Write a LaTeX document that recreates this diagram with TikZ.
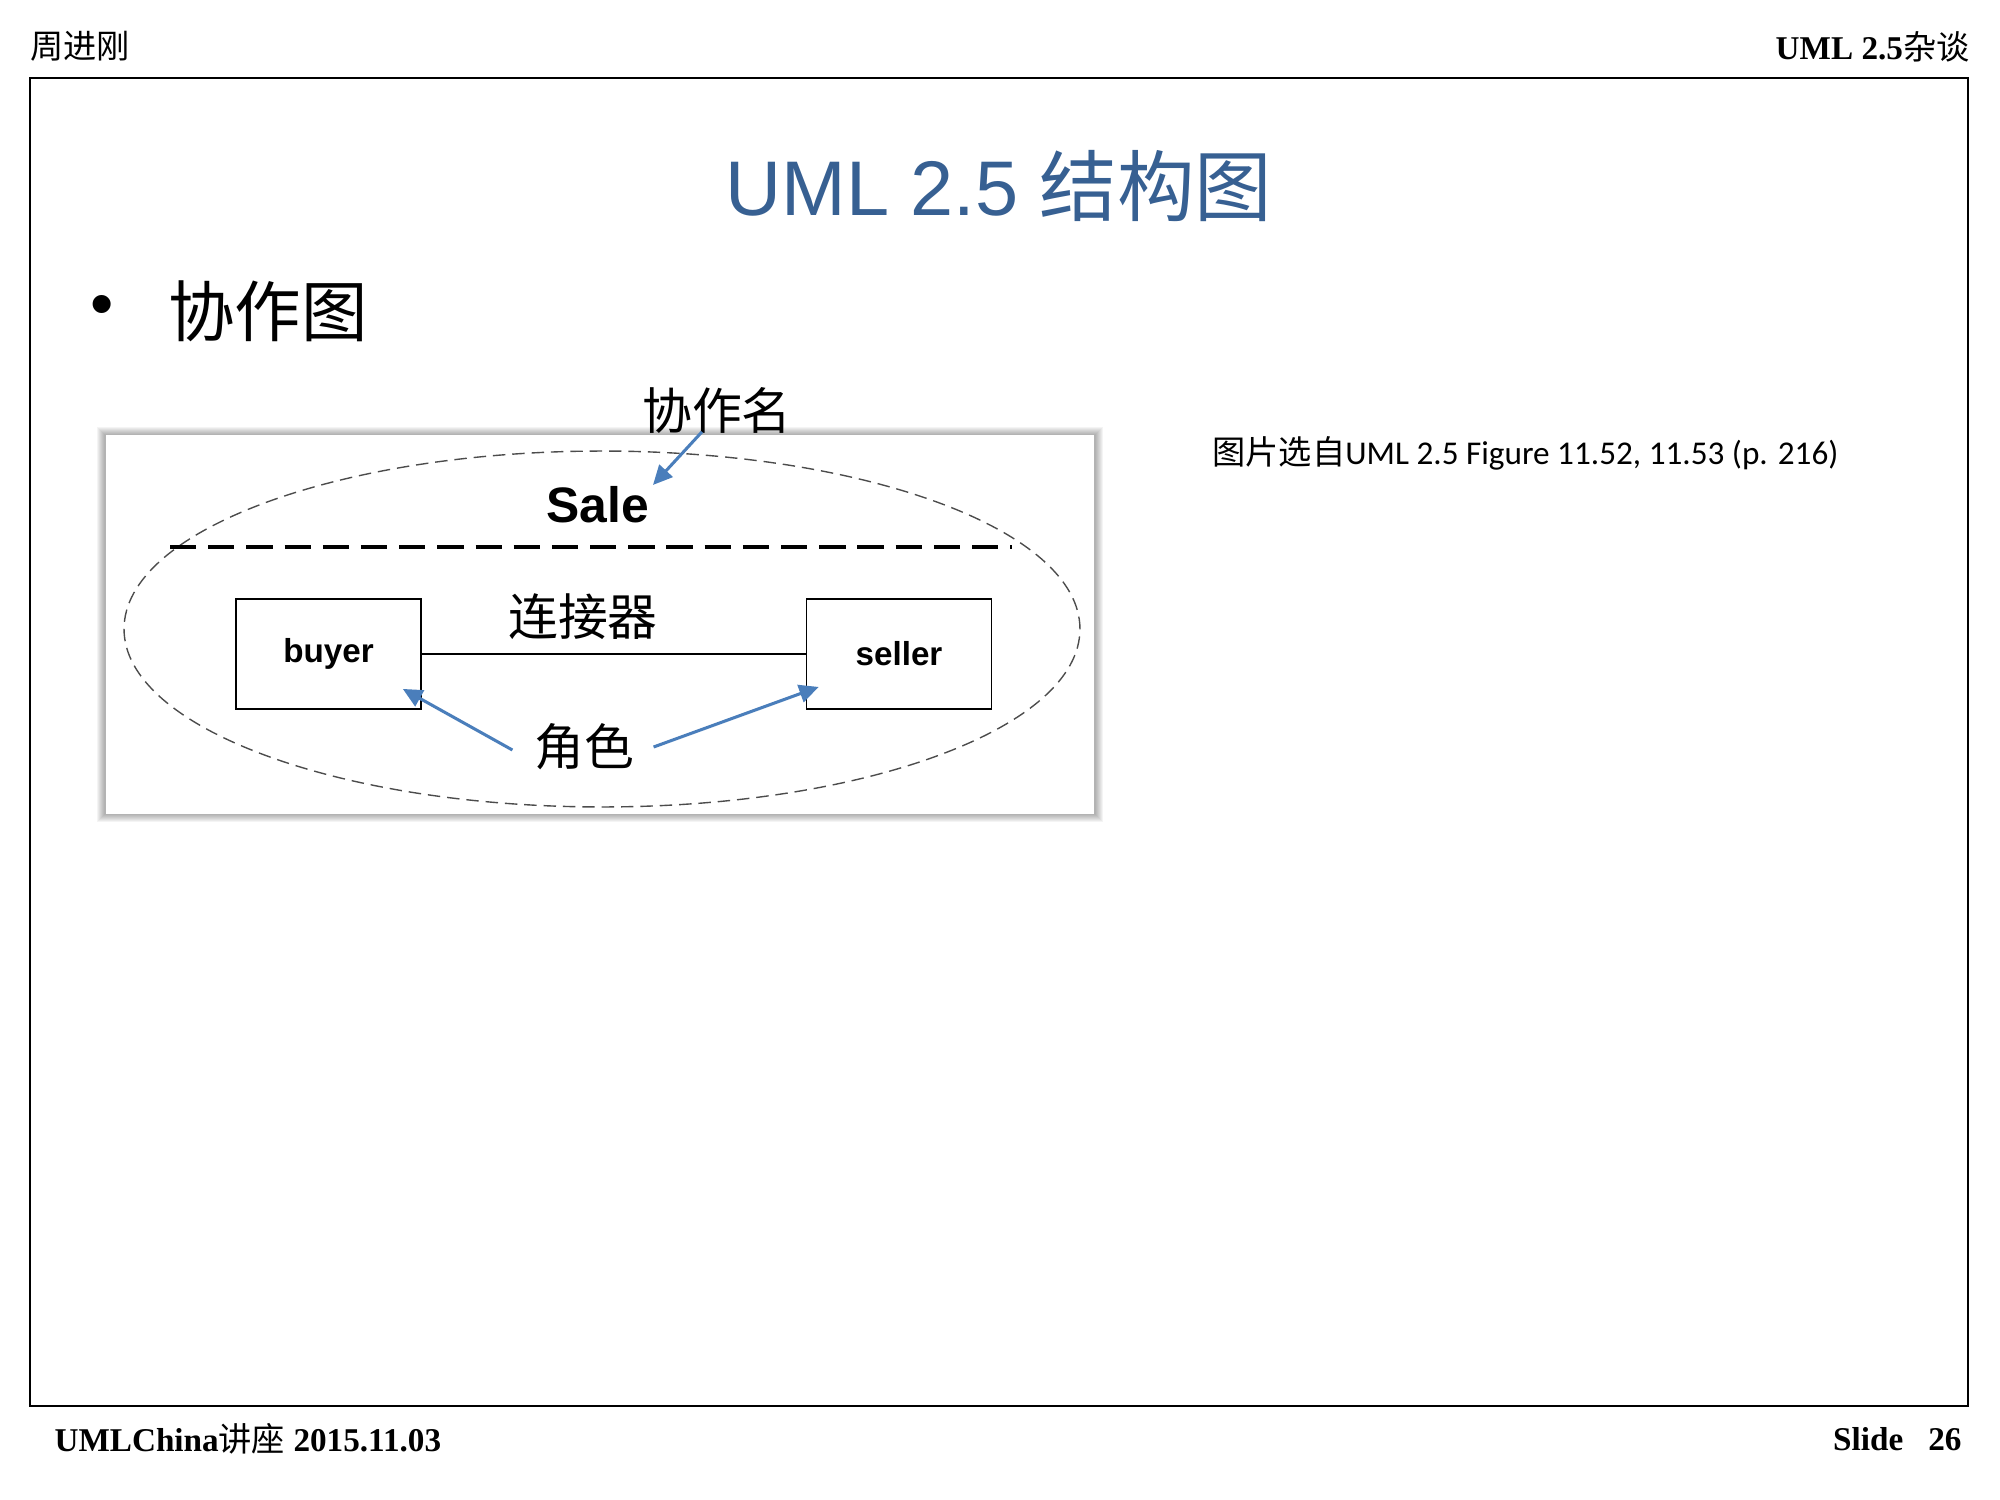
\documentclass[tikz,border=0pt]{standalone}
\usepackage{fontspec}
\setmainfont{Liberation Serif}
\setsansfont{Liberation Sans}
\newfontfamily\cjk{Noto Sans CJK SC}
\newfontfamily\notefont{Carlito}
\usetikzlibrary{shapes.geometric,backgrounds,arrows.meta,calc}
\definecolor{titleblue}{HTML}{376092}
\definecolor{pointerblue}{HTML}{4A7EBB}

\begin{document}
\begin{tikzpicture}[
    x=0.127mm, y=-0.127mm,
    hdr/.style={inner sep=0pt, font=\bfseries\fontsize{12}{14}\selectfont},
    part/.style={rectangle, draw, line width=0.6pt, minimum width=23.5mm, minimum height=14mm, font=\sffamily\bfseries\fontsize{12}{14}\selectfont},
    callout/.style={font=\cjk\fontsize{18}{22}\selectfont},
    collab/.style={ellipse, draw=black!70, line width=0.5pt, dash pattern=on 4.5pt off 2.5pt, minimum width=121.4mm, minimum height=45.2mm},
    pointer/.style={-{Triangle[length=7pt, width=6.5pt]}, line width=1.1pt, draw=pointerblue, fill=pointerblue},
]
\useasboundingbox (0,0) rectangle (2000,1500);

% Slide frame
\node[hdr, anchor=west] (author) at (30,46) {\cjk\mdseries 周进刚};
\node[hdr, anchor=east] (series) at (1970,47) {UML 2.5{\cjk\mdseries 杂谈}};
\draw[line width=1pt] (30,78) rectangle (1968,1406);
\node[hdr, anchor=west] (event) at (54,1439) {UMLChina{\cjk\mdseries 讲座} 2015.11.03};
\node[hdr, anchor=east] (page) at (1962,1439) {Slide\hspace{9pt}26};

% Title and bullet
\node[font=\sffamily\fontsize{28}{32}\selectfont, text=titleblue] (title) at (999,186) {UML 2.5 {\cjk 结构图}};
\node[font=\sffamily\fontsize{24}{28}\selectfont] (dot) at (102,311) {\textbullet};
\node[anchor=west, inner sep=0pt, font=\cjk\fontsize{24}{28}\selectfont] (topic) at (168,311) {协作图};
\node[anchor=west, inner sep=0pt, font=\notefont\fontsize{12}{14}\selectfont] (source) at (1212,453) {{\cjk 图片选自}UML 2.5 Figure 11.52, 11.53 (p. 216)};

% Figure
\node[fill=white, inner sep=0pt, minimum width=125.5mm, minimum height=48.1mm] (fig) at (600,624.5) {};
\begin{scope}[on background layer]
  \foreach \g in {1,...,8}
    \fill[black, opacity=0.045] ([shift={(-\g,-\g)}]fig.north west) rectangle ([shift={(\g,\g)}]fig.south east);
\end{scope}

\node[collab] (collab) at (602,629) {};
\coordinate (sepL) at (170,547);
\coordinate (sepR) at (1012,547);
\draw[line width=1.3pt, dash pattern=on 9.5pt off 4.3pt] (sepL) -- (sepR);

\node[font=\sffamily\bfseries\fontsize{18}{22}\selectfont] (sale) at (598,505) {Sale};
\node[part] (buyer) at (328.5,654) {buyer};
\node[part] (seller) at (899,654) {seller};
\draw[line width=0.6pt] (buyer) -- (seller);

\node[callout] (connector) at (583,617) {连接器};
\node[callout] (role) at (584,747) {角色};
\node[callout] (collabname) at (717,411) {协作名};

% Pointers
\draw[pointer] ($(collabname.south)+(-15,-12)$) -- ($(sale.north east)+(-6,8)$);
\draw[pointer] ($(role.west)+(-12,3)$) -- ($(buyer.south east)+(-19,-21)$);
\draw[pointer] ($(role.east)+(10,0)$) -- ($(seller.south west)+(13,-23)$);

\end{tikzpicture}
\end{document}
